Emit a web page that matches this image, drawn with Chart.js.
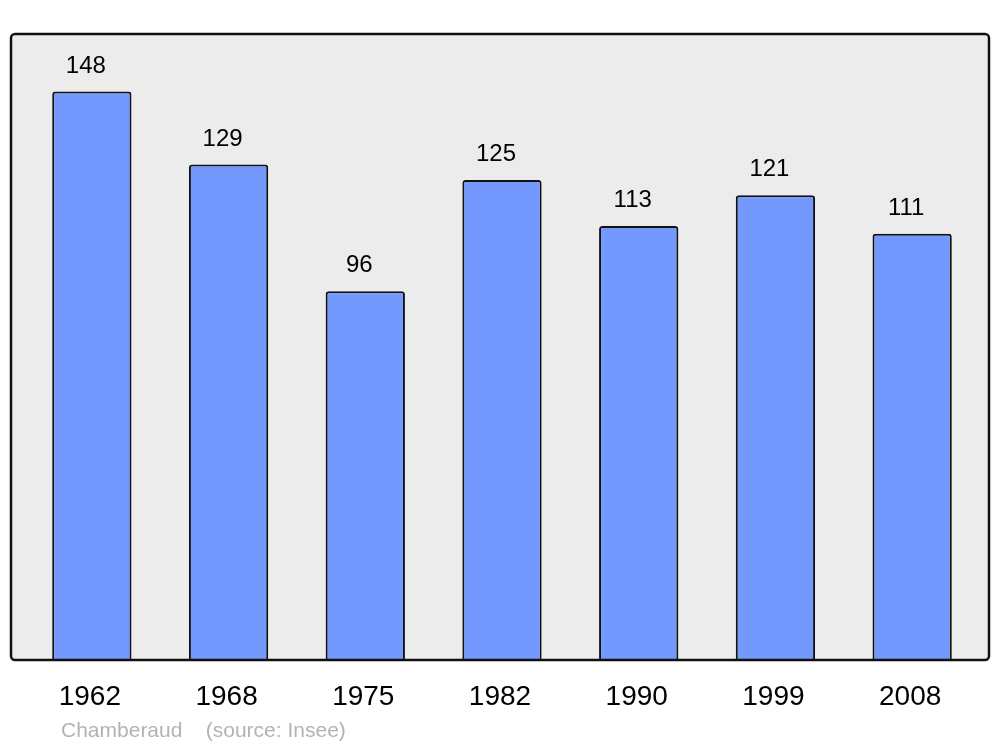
<!DOCTYPE html>
<html>
<head>
<meta charset="utf-8">
<script src="https://cdn.jsdelivr.net/npm/chart.js@4"></script>
<style>
  html, body { margin: 0; padding: 0; background: #fff; }
  #wrap { width: 1000px; height: 747px; }
</style>
</head>
<body>
<div id="wrap"><canvas id="myChart" width="1000" height="747"></canvas></div>
<script>
// population by census year
let years = ["1962", "1968", "1975", "1982", "1990", "1999", "2008"];
let population = [148, 129, 96, 125, 113, 121, 111];
let yMax = 163;
let footer = "Chamberaud    (source: Insee)";

// grey panel behind the bars, black frame drawn on top
let framePlugin = {
  id: "frame",
  beforeDatasetsDraw: (chart) => {
    let a = chart.chartArea;
    let ctx = chart.ctx;
    ctx.save();
    ctx.beginPath();
    ctx.roundRect(a.left - 12.5, a.top, a.right - a.left + 21, a.bottom - a.top, 4);
    ctx.fillStyle = "#ececec";
    ctx.fill();
    ctx.restore();
  },
  afterDatasetsDraw: (chart) => {
    let a = chart.chartArea;
    let ctx = chart.ctx;
    ctx.save();
    ctx.beginPath();
    ctx.roundRect(a.left - 12.5, a.top, a.right - a.left + 21, a.bottom - a.top, 4);
    ctx.lineWidth = 2.5;
    ctx.strokeStyle = "#111";
    ctx.stroke();

    // value labels over bars
    let meta = chart.getDatasetMeta(0);
    ctx.fillStyle = "#000";
    ctx.font = "24px 'Liberation Sans', Arial, sans-serif";
    ctx.textAlign = "center";
    ctx.textBaseline = "alphabetic";
    meta.data.forEach((bar, i) => {
      ctx.fillText(population[i], bar.x - 6, bar.y - 19);
    });

    // source line
    ctx.fillStyle = "#b3b3b3";
    ctx.font = "21px 'Liberation Sans', Arial, sans-serif";
    ctx.textAlign = "left";
    ctx.fillText(footer, 61, 737);
    ctx.restore();
  }
};

let ctx = document.getElementById("myChart").getContext("2d");
let myChart = new Chart(ctx, {
  type: "bar",
  data: {
    labels: years,
    datasets: [{
      data: population,
      backgroundColor: "#7399ff",
      borderColor: "#111",
      borderWidth: 2,
      borderRadius: 3,
      barPercentage: 0.58,
      categoryPercentage: 1
    }]
  },
  options: {
    responsive: false,
    animation: false,
    layout: { padding: { left: 23.5, right: 19.5, top: 34, bottom: 0 } },
    plugins: {
      legend: { display: false },
      tooltip: { enabled: false }
    },
    scales: {
      x: {
        grid: { display: false, drawTicks: false },
        border: { display: false },
        ticks: {
          color: "#000",
          font: { family: "'Liberation Sans', Arial, sans-serif", size: 28 },
          padding: 20,
          labelOffset: -2,
          maxRotation: 0
        },
        afterFit: (scale) => { scale.height = 87; }
      },
      y: {
        display: false,
        min: 0,
        max: yMax
      }
    }
  },
  plugins: [framePlugin]
});
</script>
</body>
</html>
